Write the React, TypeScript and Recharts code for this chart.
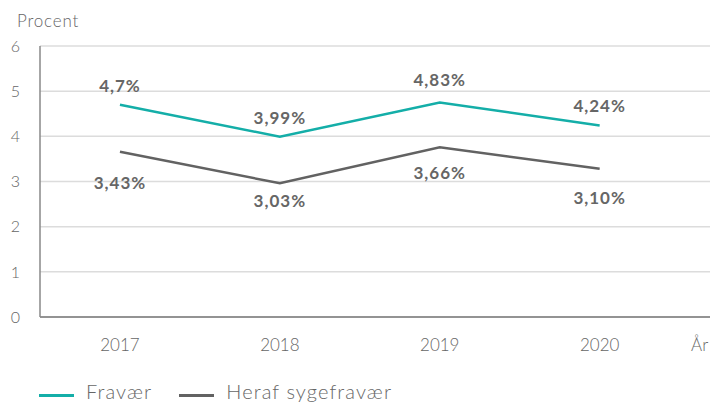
import React from "react"
import { LineChart, Line, XAxis, YAxis, CartesianGrid, Legend, LabelList } from "recharts"

const years = [2017, 2018, 2019, 2020]
// line positions as drawn
const fravaer = [4.7, 3.99, 4.75, 4.24]
const sygefravaer = [3.66, 2.96, 3.76, 3.28]
// printed values (labels sit at these levels)
const fravaerValues = [4.7, 3.99, 4.83, 4.24]
const sygefravaerValues = [3.43, 3.03, 3.66, 3.1]
const fravaerLabels = ["4,7%", "3,99%", "4,83%", "4,24%"]
const sygefravaerLabels = ["3,43%", "3,03%", "3,66%", "3,10%"]
const yTicks = [0, 1, 2, 3, 4, 5, 6]

const TEAL = "#14aea8"
const GRAY = "#626262"
const TEXT = "#666666"
const FONT = "Lato, 'Open Sans', sans-serif"

const data = years.map((year, i) => ({
  year,
  fravaer: fravaer[i],
  sygefravaer: sygefravaer[i],
  fravaerValue: fravaerValues[i],
  sygefravaerValue: sygefravaerValues[i],
  fravaerLabel: fravaerLabels[i],
  sygefravaerLabel: sygefravaerLabels[i],
}))

const AAR_POS = 2020.625

function LegendContent() {
  const items = [
    { name: "Fravær", color: TEAL },
    { name: "Heraf sygefravær", color: GRAY },
  ]
  return (
    <div style={{ display: "flex", alignItems: "center", paddingLeft: 39, paddingTop: 20, fontFamily: FONT }}>
      {items.map((it) => (
        <div key={it.name} style={{ display: "flex", alignItems: "center", marginRight: 27 }}>
          <span style={{ display: "inline-block", width: 35, height: 3, background: it.color, marginRight: 12 }} />
          <span style={{ fontSize: 20, color: TEXT, fontWeight: 300, letterSpacing: 1.1, position: "relative", top: -4 }}>
            {it.name}
          </span>
        </div>
      ))}
    </div>
  )
}

const labelStyle = {
  fill: TEXT,
  fontSize: 17,
  fontWeight: 700,
  fontFamily: FONT,
  letterSpacing: 1,
}

export default function App() {
  return (
    <div style={{ position: "absolute", left: 0, top: 0, width: 710, height: 403, overflow: "hidden", background: "#fff" }}>
      <LineChart width={710} height={403} data={data} margin={{ top: 46, right: 0, bottom: 0, left: 0 }}>
        <CartesianGrid vertical={false} stroke="#dcdcdc" strokeWidth={1.5} />
        <XAxis
          dataKey="year"
          type="number"
          domain={[2016.5, 2020.69]}
          ticks={[...years, AAR_POS]}
          tickFormatter={(v: number) => (v > 2020.5 ? "År" : String(v))}
          tickLine={false}
          axisLine={{ stroke: "#777", strokeWidth: 1.5 }}
          height={46}
          tick={{ fill: TEXT, fontSize: 17, fontFamily: FONT, fontWeight: 300 }}
          dy={14}
        />
        <YAxis
          domain={[0, 6]}
          ticks={yTicks}
          width={40}
          tickLine={false}
          axisLine={{ stroke: "#888", strokeWidth: 1.5 }}
          tick={{ fill: TEXT, fontSize: 16, fontFamily: FONT, fontWeight: 300 }}
          dx={-12}
          label={{
            content: () => (
              <text x={17} y={27} fill={TEXT} fontSize={17} fontWeight={300} fontFamily={FONT} letterSpacing={0.8}>
                Procent
              </text>
            ),
          }}
        />
        <Legend verticalAlign="bottom" height={40} content={<LegendContent />} />
        <Line dataKey="fravaer" stroke={TEAL} strokeWidth={2.5} dot={false} isAnimationActive={false} />
        <Line dataKey="sygefravaer" stroke={GRAY} strokeWidth={2.5} dot={false} isAnimationActive={false} />
        <Line dataKey="fravaerValue" stroke="none" dot={false} activeDot={false} isAnimationActive={false}>
          <LabelList dataKey="fravaerLabel" position="top" offset={13} {...labelStyle} />
        </Line>
        <Line dataKey="sygefravaerValue" stroke="none" dot={false} activeDot={false} isAnimationActive={false}>
          <LabelList dataKey="sygefravaerLabel" position="bottom" offset={15} {...labelStyle} />
        </Line>
      </LineChart>
    </div>
  )
}
